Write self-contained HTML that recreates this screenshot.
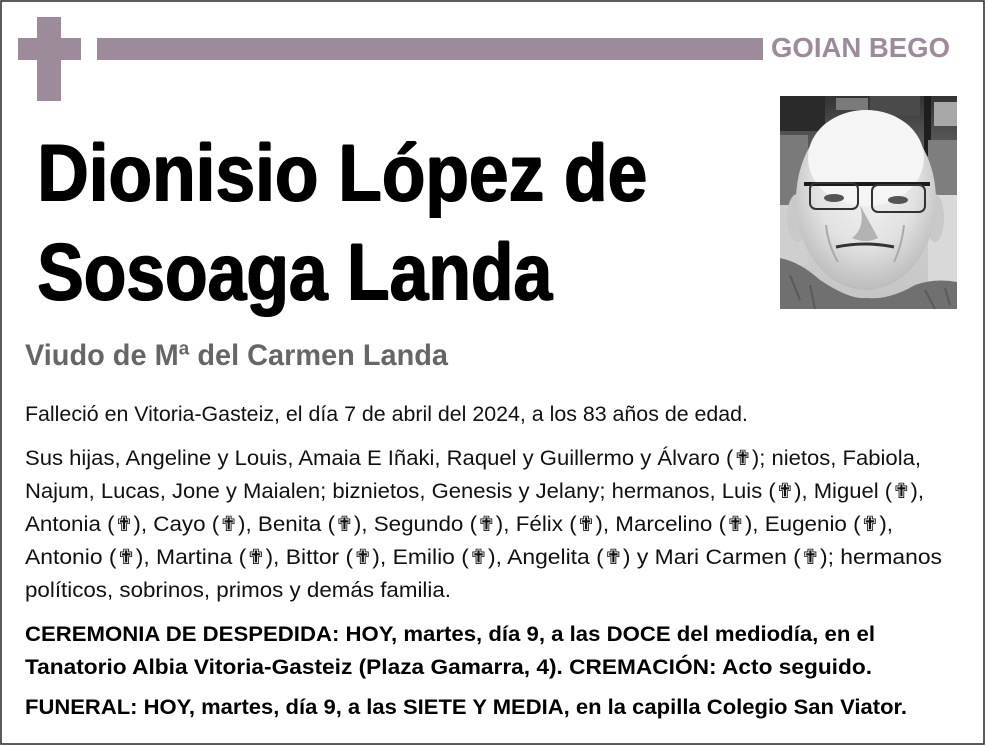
<!DOCTYPE html>
<html><head><meta charset="utf-8"><style>
html,body{margin:0;padding:0;background:#fff;}
svg{display:block}
</style></head><body>
<svg width="988" height="746" viewBox="0 0 988 746" xmlns="http://www.w3.org/2000/svg">
<defs>
  <clipPath id="ph"><rect x="780" y="96" width="177" height="213"/></clipPath>
  <radialGradient id="face" cx="0.5" cy="0.4" r="0.6">
    <stop offset="0" stop-color="#f4f4f4"/>
    <stop offset="0.6" stop-color="#e2e2e2"/>
    <stop offset="1" stop-color="#bcbcbc"/>
  </radialGradient>
  <linearGradient id="bg" x1="0" y1="0" x2="0" y2="1">
    <stop offset="0" stop-color="#333"/>
    <stop offset="0.25" stop-color="#5e5e5e"/>
    <stop offset="0.45" stop-color="#949494"/>
    <stop offset="0.6" stop-color="#d0d0d0"/>
    <stop offset="1" stop-color="#c4c4c4"/>
  </linearGradient>
</defs>
<rect width="988" height="746" fill="#fff"/>
<rect x="1" y="1" width="983" height="743" fill="none" stroke="#333" stroke-width="1.6"/>

<g fill="#9d8a9b">
  <rect x="37" y="17" width="24" height="84"/>
  <rect x="18" y="38" width="63" height="22"/>
  <rect x="97" y="38" width="666" height="22"/>
</g>
<text x="771" y="57" font-family="Liberation Sans, sans-serif" font-weight="bold" font-size="28" fill="#9d8a9b" textLength="179" lengthAdjust="spacingAndGlyphs">GOIAN BEGO</text>

<!-- photo -->
<g clip-path="url(#ph)">
  <rect x="780" y="96" width="177" height="213" fill="url(#bg)"/>
  <rect x="780" y="96" width="45" height="35" fill="#2a2a2a"/>
  <rect x="836" y="98" width="32" height="12" fill="#7a7a7a"/>
  <rect x="870" y="96" width="50" height="20" fill="#4a4a4a"/>
  <rect x="924" y="96" width="7" height="60" fill="#1e1e1e"/>
  <rect x="934" y="102" width="23" height="24" fill="#a8a8a8"/>
  <rect x="780" y="135" width="28" height="70" fill="#7a7a7a"/>
  <rect x="780" y="205" width="28" height="60" fill="#cfcfcf"/>
  <rect x="928" y="140" width="29" height="55" fill="#7e7e7e"/>
  <rect x="928" y="195" width="29" height="90" fill="#d9d9d9"/>
  <ellipse cx="797" cy="218" rx="10" ry="24" fill="#c9c9c9"/>
  <ellipse cx="935" cy="218" rx="9" ry="24" fill="#c9c9c9"/>
  <ellipse cx="866" cy="200" rx="70" ry="90" fill="url(#face)"/>
  <ellipse cx="866" cy="158" rx="58" ry="48" fill="#f5f5f5"/>
  <path d="M804 184 L930 184" stroke="#1a1a1a" stroke-width="4"/>
  <rect x="810" y="183" width="48" height="26" rx="6" fill="none" stroke="#333" stroke-width="2"/>
  <rect x="872" y="185" width="53" height="27" rx="6" fill="none" stroke="#333" stroke-width="2"/>
  <ellipse cx="834" cy="198" rx="10" ry="4" fill="#555"/>
  <ellipse cx="898" cy="200" rx="10" ry="4" fill="#555"/>
  <path d="M860 205 Q866 228 852 238 Q866 244 878 238 Z" fill="#b3b3b3"/>
  <path d="M836 247 Q865 241 894 247" stroke="#333" stroke-width="3" fill="none"/>
  <path d="M826 225 Q828 245 838 262" stroke="#aaa" stroke-width="2" fill="none"/>
  <path d="M904 225 Q902 245 894 262" stroke="#aaa" stroke-width="2" fill="none"/>
  <path d="M780 258 Q800 262 820 280 Q850 300 866 298 Q890 300 915 285 Q935 278 957 282 L957 309 L780 309 Z" fill="#707070"/>
  <path d="M790 275 L800 300 M810 285 L815 309 M925 290 L935 309 M945 288 L950 305" stroke="#5a5a5a" stroke-width="2"/>
</g>

<!-- title -->
<g font-family="Liberation Sans, sans-serif" font-weight="bold" font-size="81" fill="#000">
  <text x="36.5" y="201" textLength="610" lengthAdjust="spacingAndGlyphs">Dionisio López de</text>
  <text x="38" y="201" textLength="610" lengthAdjust="spacingAndGlyphs">Dionisio López de</text>
  <text x="37.2" y="199.8" textLength="610" lengthAdjust="spacingAndGlyphs">Dionisio López de</text>
  <text x="36.5" y="300" textLength="515" lengthAdjust="spacingAndGlyphs">Sosoaga Landa</text>
  <text x="38" y="300" textLength="515" lengthAdjust="spacingAndGlyphs">Sosoaga Landa</text>
  <text x="37.2" y="298.8" textLength="515" lengthAdjust="spacingAndGlyphs">Sosoaga Landa</text>
</g>

<text x="25" y="365" font-family="Liberation Sans, sans-serif" font-weight="bold" font-size="30" fill="#666" textLength="423" lengthAdjust="spacingAndGlyphs">Viudo de Mª del Carmen Landa</text>

<g font-family="Liberation Sans, DejaVu Sans, sans-serif" font-size="21" fill="#111">
  <text x="25" y="421" textLength="723" lengthAdjust="spacingAndGlyphs">Falleció en Vitoria-Gasteiz, el día 7 de abril del 2024, a los 83 años de edad.</text>
  <text x="25" y="465" textLength="896" lengthAdjust="spacingAndGlyphs">Sus hijas, Angeline y Louis, Amaia E Iñaki, Raquel y Guillermo y Álvaro (✟); nietos, Fabiola,</text>
  <text x="25" y="498" textLength="899" lengthAdjust="spacingAndGlyphs">Najum, Lucas, Jone y Maialen; biznietos, Genesis y Jelany; hermanos, Luis (✟), Miguel (✟),</text>
  <text x="25" y="531" textLength="868" lengthAdjust="spacingAndGlyphs">Antonia (✟), Cayo (✟), Benita (✟), Segundo (✟), Félix (✟), Marcelino (✟), Eugenio (✟),</text>
  <text x="25" y="564" textLength="917" lengthAdjust="spacingAndGlyphs">Antonio (✟), Martina (✟), Bittor (✟), Emilio (✟), Angelita (✟) y Mari Carmen (✟); hermanos</text>
  <text x="25" y="597" textLength="426" lengthAdjust="spacingAndGlyphs">políticos, sobrinos, primos y demás familia.</text>
</g>

<g font-family="Liberation Sans, sans-serif" font-weight="bold" font-size="21" fill="#000">
  <text x="25" y="641" textLength="850" lengthAdjust="spacingAndGlyphs">CEREMONIA DE DESPEDIDA: HOY, martes, día 9, a las DOCE del mediodía, en el</text>
  <text x="25" y="674" textLength="847" lengthAdjust="spacingAndGlyphs">Tanatorio Albia Vitoria-Gasteiz (Plaza Gamarra, 4). CREMACIÓN: Acto seguido.</text>
  <text x="25" y="714" textLength="882" lengthAdjust="spacingAndGlyphs">FUNERAL: HOY, martes, día 9, a las SIETE Y MEDIA, en la capilla Colegio San Viator.</text>
</g>
</svg>
</body></html>
